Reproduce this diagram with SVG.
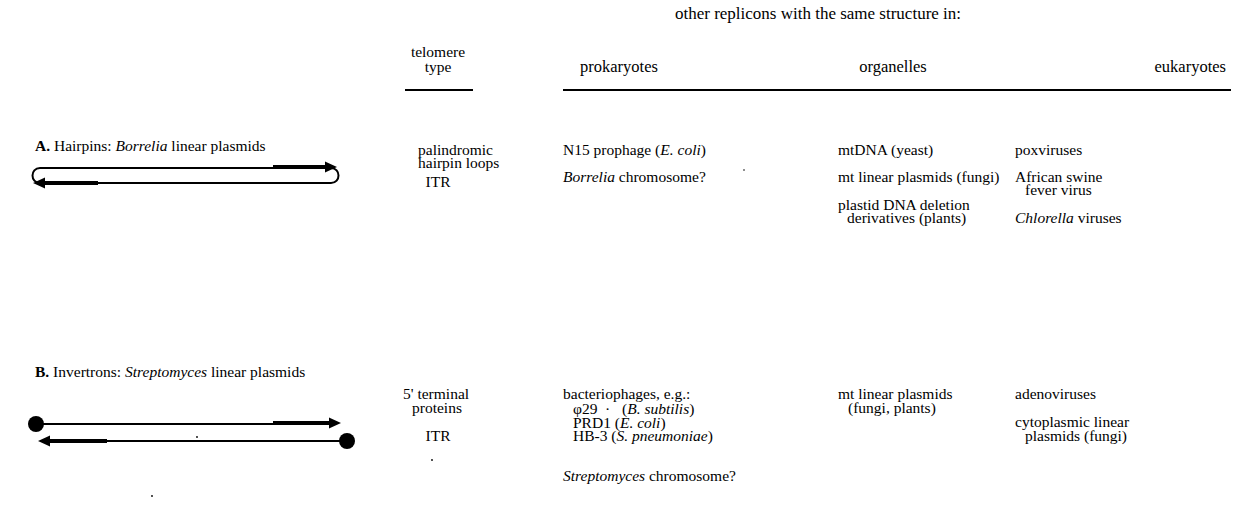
<svg xmlns="http://www.w3.org/2000/svg" width="1239" height="513" viewBox="0 0 1239 513">
<style>
text{font-family:"Liberation Serif","Times New Roman",serif;font-size:15.5px;fill:#000}
.big{font-size:17px}
.col{font-size:16.5px}
.b{font-weight:bold}
.i{font-style:italic}
.thin{stroke:#000;stroke-width:2;fill:none}
.thick{stroke:#000;stroke-width:4;fill:none}
.rule{stroke:#000;stroke-width:2}
.head{fill:#000}
</style>
<rect width="1239" height="513" fill="#fff"/>
<g id="header">
<text class="big" x="818" y="19" text-anchor="middle">other replicons with the same structure in:</text>
<text x="438" y="57" text-anchor="middle">telomere</text>
<text x="438" y="72" text-anchor="middle">type</text>
<text class="col" x="619" y="72" text-anchor="middle">prokaryotes</text>
<text class="col" x="893" y="72" text-anchor="middle">organelles</text>
<text class="col" x="1226" y="72" text-anchor="end">eukaryotes</text>
<line class="rule" x1="405" y1="90" x2="473" y2="90"/>
<line class="rule" x1="563" y1="90" x2="1231" y2="90"/>
</g>
<g id="rowA">
<text x="35" y="151"><tspan class="b">A.</tspan> Hairpins:  <tspan class="i">Borrelia</tspan> linear plasmids</text>
<text x="418" y="155">palindromic</text>
<text x="418" y="168">hairpin loops</text>
<text x="438" y="187" text-anchor="middle">ITR</text>
<text x="563" y="155">N15 prophage  (<tspan class="i">E. coli</tspan>)</text>
<text x="563" y="182"><tspan class="i">Borrelia</tspan> chromosome?</text>
<text x="838" y="155">mtDNA (yeast)</text>
<text x="838" y="182">mt linear plasmids (fungi)</text>
<text x="838" y="210">plastid DNA deletion</text>
<text x="847" y="223">derivatives (plants)</text>
<text x="1015" y="155">poxviruses</text>
<text x="1015" y="182">African swine</text>
<text x="1025" y="195">fever virus</text>
<text x="1015" y="223"><tspan class="i">Chlorella</tspan> viruses</text>
</g>
<g id="hairpin">
<path class="thin" d="M 40 168 L 331 168 C 341 168 341 183 331 183 L 40 183 C 30 183 30 168 40 168 Z"/>
<line class="thick" x1="273" y1="167" x2="328" y2="167"/>
<polygon class="head" points="337,167 325,161.5 325,172.5"/>
<line class="thick" x1="98" y1="183" x2="44" y2="183"/>
<polygon class="head" points="33,183 45,177.5 45,188.5"/>
</g>
<g id="rowB">
<text x="35" y="377"><tspan class="b">B.</tspan> Invertrons:  <tspan class="i">Streptomyces</tspan> linear plasmids</text>
<text x="403" y="399">5' terminal</text>
<text x="412" y="413">proteins</text>
<text x="438" y="441" text-anchor="middle">ITR</text>
<text x="563" y="399">bacteriophages, e.g.:</text>
<text x="573" y="414">φ29<tspan x="605">·</tspan><tspan x="622">(<tspan class="i">B. subtilis</tspan>)</tspan></text>
<text x="573" y="428">PRD1 (<tspan class="i">E. coli</tspan>)</text>
<text x="573" y="441">HB-3  (<tspan class="i">S. pneumoniae</tspan>)</text>
<text x="563" y="481"><tspan class="i">Streptomyces</tspan> chromosome?</text>
<text x="838" y="399">mt linear plasmids</text>
<text x="848" y="413">(fungi, plants)</text>
<text x="1015" y="399">adenoviruses</text>
<text x="1015" y="427">cytoplasmic linear</text>
<text x="1025" y="441">plasmids (fungi)</text>
</g>
<g id="invertron">
<circle cx="36" cy="424" r="8" fill="#000"/>
<line class="thin" x1="36" y1="424" x2="332" y2="424"/>
<line class="thick" x1="273" y1="423" x2="331" y2="423"/>
<polygon class="head" points="341,423 329,417.5 329,428.5"/>
<circle cx="347" cy="441" r="8" fill="#000"/>
<line class="thin" x1="46" y1="441" x2="347" y2="441"/>
<line class="thick" x1="107" y1="441" x2="48" y2="441"/>
<polygon class="head" points="38,441 50,435.5 50,446.5"/>
</g>
<g id="specks" fill="#000">
<circle cx="197" cy="437" r="0.9"/>
<circle cx="432" cy="460" r="0.9"/>
<circle cx="152" cy="496" r="0.9"/>
<circle cx="744" cy="170" r="0.8"/>
</g>
</svg>
